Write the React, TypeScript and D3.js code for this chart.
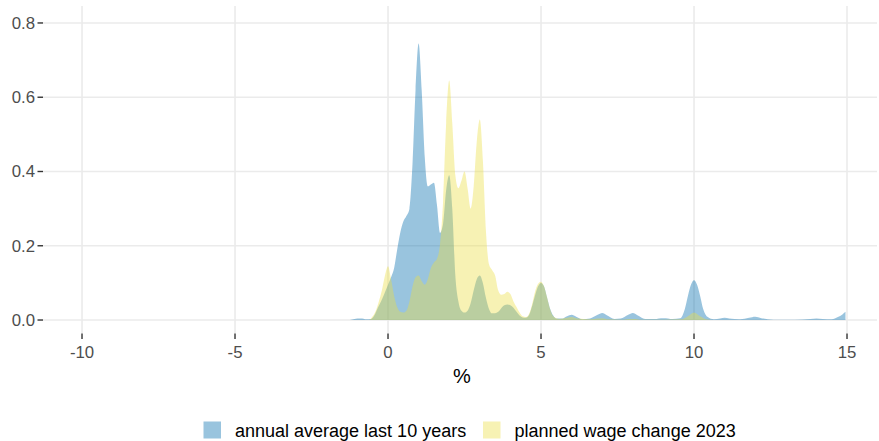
import React from "react";
import * as d3 from "d3";

// Kernel density of each series, read at selected x positions (%)
const annualX = [-1.25, -1.1, -0.9, -0.7, -0.55, -0.45, -0.35, -0.2, -0.1, 0.0, 0.1, 0.2, 0.3, 0.4, 0.5, 0.6, 0.7, 0.8, 0.9, 1.0, 1.1, 1.2, 1.3, 1.4, 1.5, 1.6, 1.7, 1.8, 1.9, 2.0, 2.1, 2.2, 2.3, 2.4, 2.5, 2.6, 2.7, 2.8, 2.9, 3.0, 3.1, 3.2, 3.3, 3.4, 3.5, 3.6, 3.7, 3.8, 3.9, 4.0, 4.1, 4.2, 4.3, 4.4, 4.5, 4.6, 4.7, 4.8, 4.9, 5.0, 5.1, 5.2, 5.3, 5.4, 5.5, 5.7, 5.85, 6.0, 6.15, 6.35, 6.6, 6.85, 7.0, 7.15, 7.4, 7.6, 7.85, 8.0, 8.15, 8.4, 8.7, 9.0, 9.3, 9.55, 9.7, 9.8, 9.9, 10.0, 10.1, 10.2, 10.3, 10.45, 10.65, 10.85, 11.0, 11.15, 11.5, 11.8, 12.0, 12.2, 12.6, 13.3, 13.8, 14.0, 14.2, 14.5, 14.7, 14.85, 14.95];
const annualDensity = [0, 0.003, 0.004, 0.002, 0.003, 0.012, 0.03, 0.055, 0.075, 0.095, 0.115, 0.14, 0.19, 0.235, 0.265, 0.28, 0.3, 0.42, 0.62, 0.745, 0.62, 0.44, 0.36, 0.365, 0.37, 0.31, 0.235, 0.26, 0.35, 0.39, 0.3, 0.12, 0.05, 0.025, 0.02, 0.025, 0.045, 0.08, 0.11, 0.12, 0.1, 0.06, 0.03, 0.018, 0.018, 0.022, 0.032, 0.04, 0.042, 0.04, 0.033, 0.022, 0.012, 0.007, 0.006, 0.012, 0.035, 0.065, 0.09, 0.1, 0.09, 0.06, 0.03, 0.012, 0.004, 0.004, 0.01, 0.014, 0.009, 0.002, 0.004, 0.014, 0.019, 0.013, 0.003, 0.004, 0.014, 0.019, 0.013, 0.003, 0.003, 0.005, 0.003, 0.005, 0.03, 0.065, 0.095, 0.107, 0.095, 0.065, 0.03, 0.008, 0.002, 0.004, 0.006, 0.004, 0.002, 0.006, 0.009, 0.005, 0.001, 0.001, 0.003, 0.004, 0.003, 0.002, 0.008, 0.015, 0.022];

const plannedX = [-0.6, -0.5, -0.4, -0.3, -0.2, -0.1, 0.0, 0.1, 0.2, 0.3, 0.4, 0.5, 0.6, 0.7, 0.8, 0.9, 1.0, 1.1, 1.2, 1.3, 1.4, 1.5, 1.6, 1.7, 1.8, 1.9, 2.0, 2.1, 2.2, 2.3, 2.4, 2.5, 2.6, 2.7, 2.8, 2.9, 3.0, 3.1, 3.2, 3.3, 3.4, 3.5, 3.6, 3.7, 3.8, 3.9, 4.0, 4.1, 4.2, 4.3, 4.4, 4.5, 4.6, 4.7, 4.8, 4.9, 5.0, 5.1, 5.2, 5.3, 5.4, 5.6, 5.85, 6.0, 6.2, 6.6, 6.85, 7.0, 7.2, 7.6, 8.0, 8.3, 9.0, 9.6, 9.8, 10.0, 10.2, 10.4, 10.6];
const plannedDensity = [0, 0.01, 0.025, 0.05, 0.08, 0.12, 0.145, 0.11, 0.065, 0.035, 0.022, 0.02, 0.025, 0.05, 0.09, 0.115, 0.12, 0.105, 0.095, 0.11, 0.14, 0.155, 0.165, 0.205, 0.32, 0.53, 0.645, 0.53, 0.39, 0.355, 0.375, 0.4, 0.355, 0.3, 0.36, 0.48, 0.54, 0.43, 0.24, 0.15, 0.135, 0.12, 0.08, 0.068, 0.07, 0.076, 0.07, 0.05, 0.035, 0.02, 0.01, 0.008, 0.015, 0.04, 0.075, 0.097, 0.103, 0.09, 0.06, 0.028, 0.01, 0.003, 0.006, 0.008, 0.004, 0.002, 0.004, 0.005, 0.002, 0.001, 0.003, 0.001, 0.001, 0.002, 0.01, 0.02, 0.01, 0.002, 0];

const xTicks = [-10, -5, 0, 5, 10, 15];
const yTicks = [0, 0.2, 0.4, 0.6, 0.8];

const seriesNames = ["annual average last 10 years", "planned wage change 2023"];
const seriesColors = ["#006cad", "#ebde44"];
const fillOpacity = 0.4;

const W = 879;
const H = 441;
const panel = { left: 43, right: 877, top: 6, bottom: 333.5 };
const FONT = "'Liberation Sans', Arial, Helvetica, sans-serif";

export default function App() {
  const x = d3.scaleLinear().domain([-11.275, 15.98]).range([panel.left, panel.right]);
  const y = d3.scaleLinear().domain([-0.0363, 0.8457]).range([panel.bottom, panel.top]);

  const area = d3
    .area<[number, number]>()
    .x((d) => x(d[0]))
    .y0(y(0))
    .y1((d) => y(d[1]))
    .curve(d3.curveMonotoneX);

  const series = [
    annualX.map((v, i) => [v, annualDensity[i]] as [number, number]),
    plannedX.map((v, i) => [v, plannedDensity[i]] as [number, number]),
  ];

  const legendItems = [
    { keyX: 203.5, textX: 235 },
    { keyX: 483, textX: 514.5 },
  ];

  return (
    <svg
      width={W}
      height={H}
      style={{ position: "absolute", left: 0, top: 0, background: "#fff" }}
      fontFamily={FONT}
    >
      {/* major grid */}
      {yTicks.map((t) => (
        <line
          key={"gy" + t}
          x1={panel.left}
          x2={panel.right}
          y1={y(t)}
          y2={y(t)}
          stroke="#ebebeb"
          strokeWidth={1.6}
        />
      ))}
      {xTicks.map((t) => (
        <line
          key={"gx" + t}
          x1={x(t)}
          x2={x(t)}
          y1={panel.top}
          y2={panel.bottom}
          stroke="#ebebeb"
          strokeWidth={1.6}
        />
      ))}

      {/* density areas */}
      {series.map((pts, i) => (
        <path key={seriesNames[i]} d={area(pts) ?? ""} fill={seriesColors[i]} fillOpacity={fillOpacity} />
      ))}

      {/* x axis */}
      {xTicks.map((t) => (
        <g key={"tx" + t}>
          <line x1={x(t)} x2={x(t)} y1={panel.bottom} y2={panel.bottom + 5.5} stroke="#333" strokeWidth={1.4} />
          <text x={x(t)} y={358} textAnchor="middle" fontSize={16.8} fill="#4d4d4d">
            {t}
          </text>
        </g>
      ))}
      {/* y axis */}
      {yTicks.map((t) => (
        <g key={"ty" + t}>
          <line x1={panel.left - 5.5} x2={panel.left} y1={y(t)} y2={y(t)} stroke="#333" strokeWidth={1.4} />
          <text x={35} y={y(t) + 6} textAnchor="end" fontSize={16.8} fill="#4d4d4d">
            {d3.format(".1f")(t)}
          </text>
        </g>
      ))}

      <text x={462} y={383} textAnchor="middle" fontSize={20} fill="#000">
        %
      </text>

      {/* legend */}
      {legendItems.map((it, i) => (
        <g key={"lg" + i}>
          <rect x={it.keyX} y={421.5} width={17.5} height={17} fill={seriesColors[i]} fillOpacity={fillOpacity} />
          <text x={it.textX} y={436.7} fontSize={18} fill="#000">
            {seriesNames[i]}
          </text>
        </g>
      ))}
    </svg>
  );
}
